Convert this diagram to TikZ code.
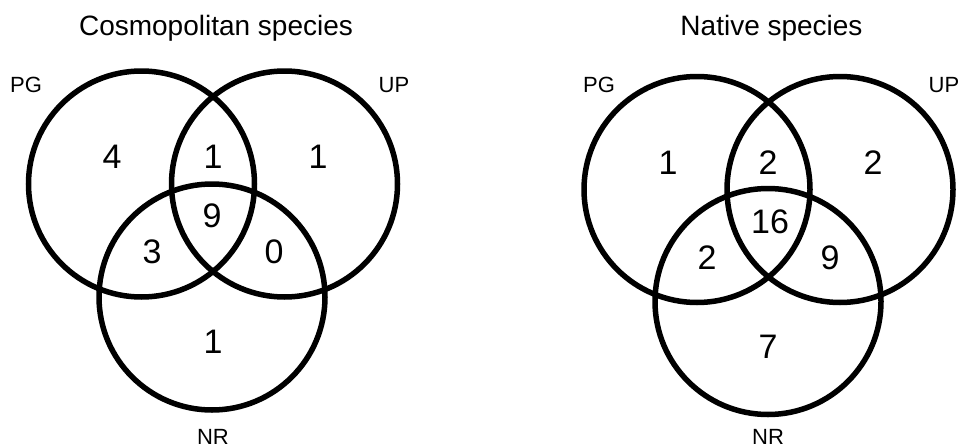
\documentclass[tikz,border=0pt]{standalone}
\usepackage{fontspec}
\setmainfont{Liberation Sans}
\usetikzlibrary{calc}

\begin{document}
\begin{tikzpicture}[x=1pt,y=-1pt]
        \tikzset{ring/.style={draw=black, line width=5.5pt},
                 count/.style={font=\fontsize{34}{34}\selectfont},
                 setname/.style={font=\fontsize{22}{22}\selectfont, anchor=base},
                 heading/.style={font=\fontsize{28}{28}\selectfont, anchor=base}}
        \useasboundingbox (0,0) rectangle (960,447);

        % Cosmopolitan species
        \coordinate (PGa) at (141.5, 184);
        \coordinate (UPa) at (284.5, 184);
        \coordinate (NRa) at (212, 297);
        \draw[ring] (PGa) circle (113pt);
        \draw[ring] (UPa) circle (113pt);
        \draw[ring] (NRa) circle (113pt);

        \node[heading] (titlea) at (216, 35) {Cosmopolitan species};
        \node[setname] (pga) at (26, 92) {PG};
        \node[setname] (upa) at (394, 92) {UP};
        \node[setname] (nra) at (213, 444) {NR};

        \node[count] (pgonlya) at (112, 157) {4};
        \node[count] (pgupa) at (213, 157) {1};
        \node[count] (uponlya) at (318, 157) {1};
        \node[count] (alla) at (212, 216) {9};
        \node[count] (pgnra) at (152, 252) {3};
        \node[count] (upnra) at (274, 252) {0};
        \node[count] (nronlya) at (213, 342) {1};

        % Native species
        \coordinate (PGb) at (697, 189.5);
        \coordinate (UPb) at (840, 189.5);
        \coordinate (NRb) at (768, 301.5);
        \draw[ring] (PGb) circle (113pt);
        \draw[ring] (UPb) circle (113pt);
        \draw[ring] (NRb) circle (113pt);

        \node[heading] (titleb) at (771.5, 35) {Native species};
        \node[setname] (pgb) at (599, 92) {PG};
        \node[setname] (upb) at (944, 92) {UP};
        \node[setname] (nrb) at (768, 444) {NR};

        \node[count] (pgonlyb) at (668, 163) {1};
        \node[count] (pgupb) at (768, 163) {2};
        \node[count] (uponlyb) at (873, 163) {2};
        \node[count] (allb) at (770, 222) {16};
        \node[count] (pgnrb) at (707, 258) {2};
        \node[count] (upnrb) at (830, 258) {9};
        \node[count] (nronlyb) at (768, 347) {7};
    \end{tikzpicture}
\end{document}
